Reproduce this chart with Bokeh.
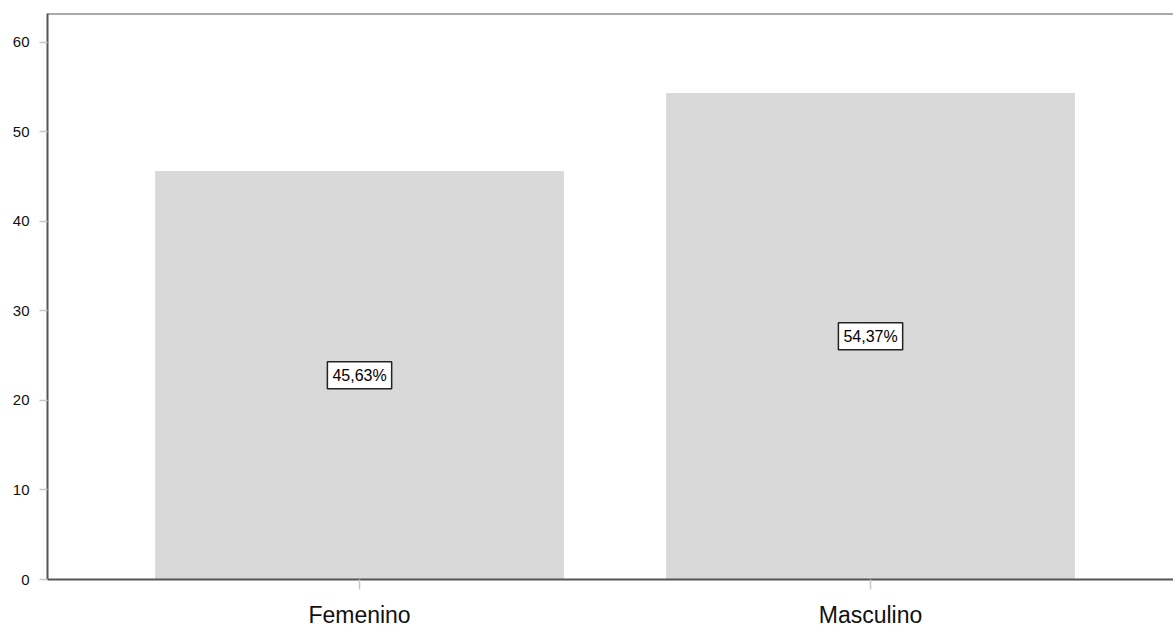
from bokeh.plotting import figure
from bokeh.models import ColumnDataSource, Range1d, FixedTicker, Span
from bokeh.core.properties import value
from bokeh.embed import file_html
from bokeh.resources import INLINE

categories = ["Femenino", "Masculino"]
percentages = [45.63, 54.37]
pct_labels = ["45,63%", "54,37%"]
y_ticks = [0, 10, 20, 30, 40, 50, 60]

xs = list(range(len(categories)))
src = ColumnDataSource(dict(
    x=xs,
    top=percentages,
    mid=[v / 2 for v in percentages],
    lab=pct_labels,
))

Y_END = 63.24

p = figure(width=1173, height=630, output_backend="svg", toolbar_location=None,
           x_range=Range1d(-0.6106, 1.5929), y_range=Range1d(0, Y_END),
           min_border_left=47, min_border_top=13, min_border_right=0, min_border_bottom=51)

p.vbar(x="x", top="top", width=0.8, bottom=0, source=src,
       fill_color="#d9d9d9", line_color=None)

p.text(x="x", y="mid", text="lab", source=src,
       text_font=value("Liberation Sans"), text_font_size="16px",
       text_align="center", text_baseline="middle", text_color="black",
       background_fill_color="white", border_line_color="#222222",
       border_line_width=1.5, padding=5)

p.grid.visible = False
p.outline_line_color = None
p.background_fill_color = "white"
p.border_fill_color = "white"

p.add_layout(Span(location=Y_END, dimension="width", line_color="#555555", line_width=2))

xax = p.xaxis[0]
yax = p.yaxis[0]
xax.ticker = FixedTicker(ticks=xs)
xax.major_label_overrides = {i: c for i, c in enumerate(categories)}
yax.ticker = FixedTicker(ticks=y_ticks)

for ax in (xax, yax):
    ax.axis_line_color = "#555555"
    ax.axis_line_width = 2
    ax.major_tick_line_color = "#c8c8c8"
    ax.major_tick_line_width = 1.5
    ax.major_tick_in = 0
    ax.minor_tick_line_color = None
    ax.major_label_text_font = "Liberation Sans"
    ax.major_label_text_color = "#111111"

xax.major_tick_out = 10
xax.major_label_standoff = 12
xax.major_label_text_font_size = "23px"
yax.major_tick_out = 8
yax.major_label_standoff = 10
yax.major_label_text_font_size = "15px"

open("out.html", "w").write(file_html(p, INLINE))
